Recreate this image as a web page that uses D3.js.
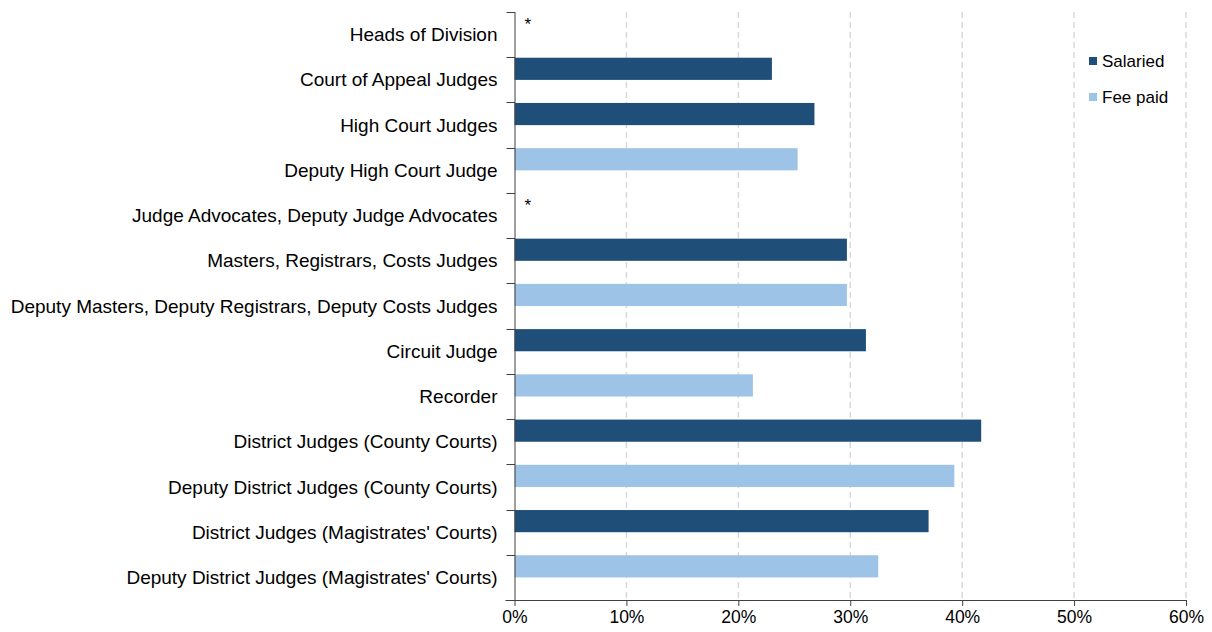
<!DOCTYPE html>
<html>
<head>
<meta charset="utf-8">
<script src="https://cdn.jsdelivr.net/npm/d3@7"></script>
<style>
  html, body { margin: 0; padding: 0; background: #fff; overflow: hidden; }
  svg { display: block; }
  text { font-family: "Liberation Sans", Arial, sans-serif; fill: #000; }
</style>
</head>
<body>
<div id="chart"></div>
<script>
// categories, top to bottom
var categories = [
  "Heads of Division",
  "Court of Appeal Judges",
  "High Court Judges",
  "Deputy High Court Judge",
  "Judge Advocates, Deputy Judge Advocates",
  "Masters, Registrars, Costs Judges",
  "Deputy Masters, Deputy Registrars, Deputy Costs Judges",
  "Circuit Judge",
  "Recorder",
  "District Judges (County Courts)",
  "Deputy District Judges (County Courts)",
  "District Judges (Magistrates' Courts)",
  "Deputy District Judges (Magistrates' Courts)"
];

// percentages, null = no bar
var salaried = [null, 23.0, 26.8, null, null, 29.7, null, 31.4, null, 41.7, null, 37.0, null];
var feePaid  = [null, null, null, 25.3, null, null, 29.7, null, 21.3, null, 39.3, null, 32.5];

// categories where the figure is suppressed
var suppressed = ["Heads of Division", "Judge Advocates, Deputy Judge Advocates"];

var xTicks = [0, 10, 20, 30, 40, 50, 60];

var seriesNames = ["Salaried", "Fee paid"];
var colors = {"Salaried": "#1f4e79", "Fee paid": "#9dc3e6"};

var outerWidth = 1212, outerHeight = 632;
var margin = {top: 12, right: 26, bottom: 32, left: 514.5};
var innerWidth = outerWidth - margin.left - margin.right;
var innerHeight = outerHeight - margin.top - margin.bottom;

var svg = d3.select("#chart").append("svg")
  .attr("width", outerWidth)
  .attr("height", outerHeight)
  .append("g")
  .attr("transform", "translate(" + margin.left + "," + margin.top + ")");

var xScale = d3.scaleLinear().domain([0, 60]).range([0, innerWidth]);
var yScale = d3.scaleBand().domain(categories).range([0, innerHeight]);

// gridlines
svg.selectAll(".grid")
  .data(xTicks.slice(1))
  .enter().append("line")
  .attr("class", "grid")
  .attr("x1", function(d){ return xScale(d); })
  .attr("x2", function(d){ return xScale(d); })
  .attr("y1", 0)
  .attr("y2", innerHeight)
  .attr("stroke", "#d9d9d9")
  .attr("stroke-width", 1.5)
  .attr("stroke-dasharray", "6,4");

// bars
var rows = [];
categories.forEach(function(c, i){
  if (salaried[i] != null) rows.push({cat: c, value: salaried[i], series: "Salaried"});
  if (feePaid[i] != null) rows.push({cat: c, value: feePaid[i], series: "Fee paid"});
});

var barH = yScale.bandwidth() * 0.49;

svg.selectAll(".bar")
  .data(rows)
  .enter().append("rect")
  .attr("class", "bar")
  .attr("x", xScale(0))
  .attr("y", function(d){ return yScale(d.cat) + 0.5; })
  .attr("width", function(d){ return xScale(d.value) - xScale(0); })
  .attr("height", barH)
  .attr("fill", function(d){ return colors[d.series]; });

// asterisks
svg.selectAll(".star")
  .data(suppressed)
  .enter().append("text")
  .attr("class", "star")
  .attr("x", xScale(0) + 10)
  .attr("y", function(d){ return yScale(d) + 18; })
  .style("font-size", "17px")
  .text("*");

// x axis
var xAxis = d3.axisBottom(xScale)
  .tickValues(xTicks)
  .tickFormat(function(d){ return d + "%"; })
  .tickSize(6)
  .tickPadding(5);

var gx = svg.append("g")
  .attr("class", "x axis")
  .attr("transform", "translate(0," + innerHeight + ")")
  .call(xAxis);
gx.select(".domain").attr("d", "M-9,0.5H" + (innerWidth + 0.5)).attr("stroke", "#404040");
gx.selectAll(".tick line").attr("stroke", "#404040");
gx.selectAll(".tick text").style("font-size", "17.5px").attr("fill", "#000");

// y axis: ticks between categories
var gy = svg.append("g").attr("class", "y axis");
gy.append("line")
  .attr("x1", 0.5).attr("x2", 0.5)
  .attr("y1", 0).attr("y2", innerHeight)
  .attr("stroke", "#404040");
gy.selectAll(".ytick")
  .data(categories)
  .enter().append("line")
  .attr("class", "ytick")
  .attr("x1", -8).attr("x2", 0.5)
  .attr("y1", function(d){ return Math.round(yScale(d)) + 0.5; })
  .attr("y2", function(d){ return Math.round(yScale(d)) + 0.5; })
  .attr("stroke", "#404040");
gy.selectAll(".ylabel")
  .data(categories)
  .enter().append("text")
  .attr("class", "ylabel")
  .attr("x", -17)
  .attr("y", function(d){ return yScale(d) + yScale.bandwidth() / 2; })
  .attr("dy", "0.35em")
  .attr("text-anchor", "end")
  .style("font-size", "19px")
  .text(function(d){ return d; });

// legend
var legend = svg.append("g")
  .attr("transform", "translate(" + (1089 - margin.left) + "," + (57 - margin.top) + ")");
seriesNames.forEach(function(s, i){
  var g = legend.append("g").attr("transform", "translate(0," + (i * 36) + ")");
  g.append("rect").attr("width", 8).attr("height", 8).attr("fill", colors[s]);
  g.append("text")
    .attr("x", 13).attr("y", 4).attr("dy", "0.35em")
    .style("font-size", "17px")
    .text(s);
});
</script>
</body>
</html>
